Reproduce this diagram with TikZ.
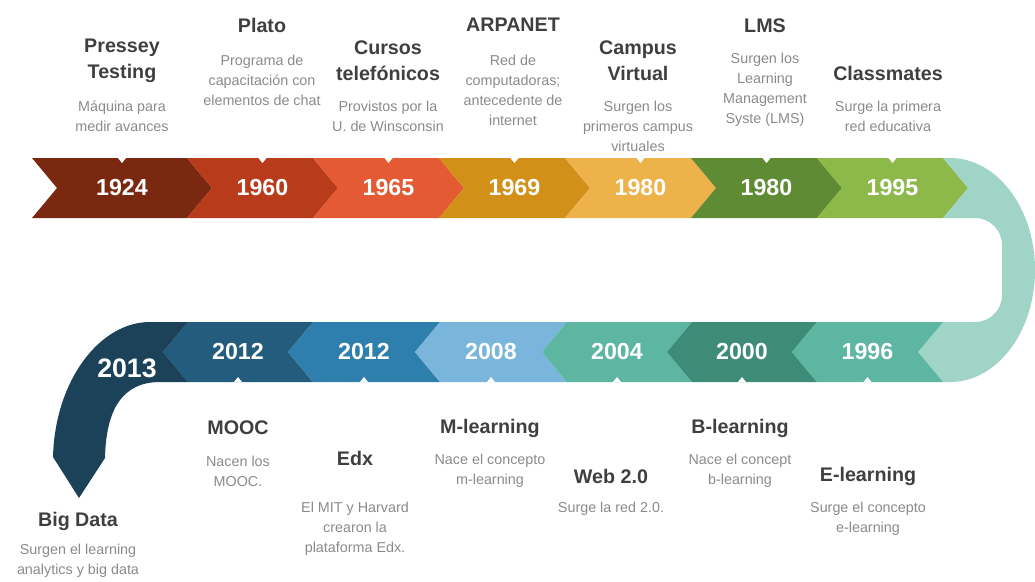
\documentclass[tikz,border=0pt]{standalone}
\usepackage{fontspec}
\setmainfont{Liberation Sans}
\definecolor{cA}{HTML}{7A2810}
\definecolor{cB}{HTML}{B83B1B}
\definecolor{cC}{HTML}{E35A33}
\definecolor{cD}{HTML}{D29018}
\definecolor{cE}{HTML}{EDB249}
\definecolor{cF}{HTML}{5E8B33}
\definecolor{cG}{HTML}{8DB94B}
\definecolor{cTurn}{HTML}{9FD4C6}
\definecolor{cM}{HTML}{5DB6A1}
\definecolor{cN}{HTML}{3E8B78}
\definecolor{cL}{HTML}{7AB6DC}
\definecolor{cK}{HTML}{2E7FAD}
\definecolor{cJ}{HTML}{235C7C}
\definecolor{cNavy}{HTML}{1B4259}
\definecolor{ttlgray}{HTML}{3F3F3F}
\definecolor{dscgray}{HTML}{8A8A8A}
\begin{document}
\begin{tikzpicture}[x=0.025cm, y=-0.025cm,
    yr/.style={font=\bfseries\fontsize{16.5}{20}\selectfont, text=white},
    ttl/.style={font=\bfseries\fontsize{14}{18.5}\selectfont, text=ttlgray, align=center},
    dsc/.style={font=\fontsize{10.2}{14.2}\selectfont, text=dscgray, align=center}]
    \useasboundingbox (0,0) rectangle (1035,581);
    % top row, pointing right
    \foreach \a/\b/\col/\yr [count=\i] in {32/187/cA/1924, 187/313/cB/1960, 313/439/cC/1965, 439/565/cD/1969, 565/691/cE/1980, 691/817/cF/1980, 817/943/cG/1995}{
        \pgfmathsetmacro\m{(\a+25+\b)/2}
        \fill[\col] (\a,158) -- (\b,158) -- (\b+25,188) -- (\b,218) -- (\a,218) -- (\a+25,188) -- cycle;
        \fill[white] (\m-4,158) -- (\m+4,158) -- (\m,163) -- cycle;
        \node[yr] (top-\i) at (\m,188) {\yr};
    }
    % turn on the right
    \fill[cTurn] (943,158) -- (950,158) .. controls (997,158) and (1035,208) .. (1035,270)
        .. controls (1035,332) and (997,382) .. (950,382) -- (943,382) -- (918,352) -- (943,322)
        -- (975,322) .. controls (990,322) and (1002,310) .. (1002,295) -- (1002,245)
        .. controls (1002,230) and (990,218) .. (975,218) -- (943,218) -- (968,188) -- cycle;
    % bottom row, pointing left
    \foreach \t/\u/\col/\yr [count=\i] in {163/288/cJ/2012, 288/415/cK/2012, 415/542/cL/2008, 542/667/cM/2004, 667/792/cN/2000, 792/918/cM/1996}{
        \pgfmathsetmacro\m{(\t+25+\u)/2}
        \fill[\col] (\t+25,322) -- (\u+25,322) -- (\u,352) -- (\u+25,382) -- (\t+25,382) -- (\t,352) -- cycle;
        \fill[white] (\m-4,382) -- (\m+4,382) -- (\m,377) -- cycle;
        \node[yr] (bot-\i) at (\m,352) {\yr};
    }
    % end on the left
    \fill[cNavy] (188,322) -- (150,322) .. controls (100,322) and (55,380) .. (53,457) -- (79,498) -- (105,458)
        .. controls (106,410) and (122,382) .. (160,382) -- (188,382) -- (163,352) -- cycle;
    \node[yr, font=\bfseries\fontsize{19}{22}\selectfont] (bot-7) at (127,368) {2013};
    % texts
    \foreach \x/\ty/\hd/\dy/\txt [count=\i] in {
        122/61/{Pressey\\Testing}/116/{Máquina para\\medir avances},
        262/25/Plato/80/{Programa de\\capacitación con\\elementos de chat},
        388/61/{Cursos\\telefónicos}/116/{Provistos por la\\U. de Winsconsin},
        513/25/ARPANET/90/{Red de\\computadoras;\\antecedente de\\internet},
        638/61/{Campus\\Virtual}/126/{Surgen los\\primeros campus\\virtuales},
        765/26/LMS/90/{Surgen los\\Learning\\Management\\Syste (LMS)},
        888/73/Classmates/116/{Surge la primera\\red educativa},
        238/428/MOOC/471/{Nacen los\\MOOC.},
        355/458/Edx/529/{El MIT y Harvard\\crearon la\\plataforma Edx.},
        490/428/M-learning/471/{Nace el concepto\\m-learning},
        611/476/Web 2.0/509/{Surge la red 2.0.},
        740/428/B-learning/471/{Nace el concept\\b-learning},
        868/476/E-learning/519/{Surge el concepto\\e-learning},
        78/521/Big Data/561/{Surgen el learning\\analytics y big data}}{
        \node[ttl] (ttl-\i) at (\x,\ty) {\hd};
        \node[dsc] (dsc-\i) at (\x,\dy) {\txt};
    }
\end{tikzpicture}
\end{document}
